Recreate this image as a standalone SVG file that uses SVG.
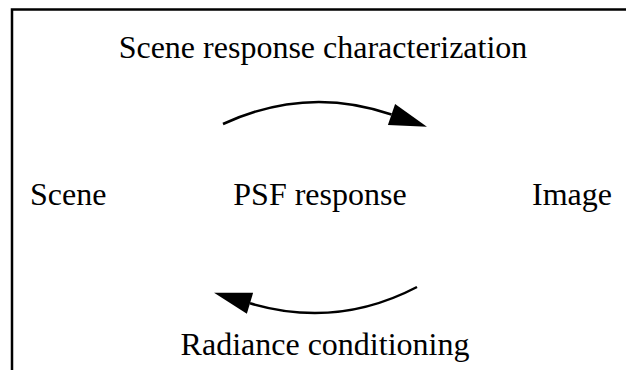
<svg xmlns="http://www.w3.org/2000/svg" width="626" height="370" viewBox="0 0 626 370">
<style>
.t{font-family:"Liberation Serif","Times New Roman",serif;font-size:32px;fill:#000}
.c{fill:none;stroke:#000;stroke-width:2.5}
.frame{fill:none;stroke:#000;stroke-width:2.5}
</style>
<defs>
<marker id="ah" markerUnits="userSpaceOnUse" markerWidth="40" markerHeight="24" refX="0" refY="11" orient="auto" overflow="visible">
<path d="M0,0 L37.5,11 L0,22 z" fill="#000"/>
</marker>
</defs>
<rect width="626" height="370" fill="#fff"/>
<path class="frame" d="M12,370 V9.5 H626"/>
<g id="title"><text class="t" x="323" y="58" text-anchor="middle">Scene response characterization</text></g>
<g id="scene"><text class="t" x="30" y="205">Scene</text></g>
<g id="psf"><text class="t" x="320" y="205" text-anchor="middle">PSF response</text></g>
<g id="image"><text class="t" x="572" y="205" text-anchor="middle">Image</text></g>
<g id="radiance"><text class="t" x="325" y="355" text-anchor="middle">Radiance conditioning</text></g>
<g id="connectors">
<path class="c" d="M223,124 Q306.9,85.2 391.5,114.5" marker-end="url(#ah)"/>
<path class="c" d="M417,287 Q336.6,329 250,303.3" marker-end="url(#ah)"/>
</g>
</svg>
